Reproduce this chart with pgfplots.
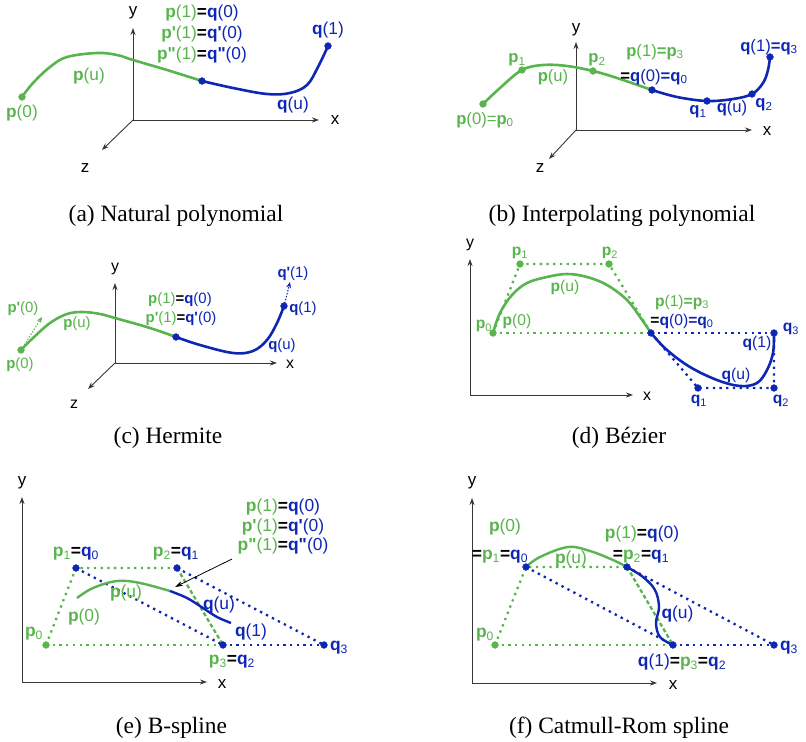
\documentclass[border=0pt]{standalone}
\usepackage{pgfplots}
\pgfplotsset{compat=1.18}
\usetikzlibrary{arrows.meta}
\usepackage{fontspec}
\setmainfont{Liberation Serif}
\newfontfamily\lab{Liberation Sans}
\definecolor{cg}{RGB}{88,180,76}
\definecolor{cb}{RGB}{14,38,180}
\definecolor{axc}{RGB}{55,55,55}
\newcommand\G[1]{\textcolor{cg}{#1}}
\newcommand\Bl[1]{\textcolor{cb}{#1}}
\newcommand\bp{\textbf{p}}
\newcommand\bq{\textbf{q}}
\newcommand\eq{\textbf{=}}
\newcommand\s[1]{\textsubscript{#1}}
\newcommand\pr{\symbol{"27}}
\newcommand\dpr{\symbol{"22}}
\tikzset{L/.style={inner sep=0pt, font=\lab\fontsize{#1}{#1}\selectfont},
  C/.style={inner sep=0pt, anchor=base, font=\fontsize{23.5}{24}\selectfont}}
\pgfplotsset{
  axl/.style={axc, line width=0.9bp, -{Stealth[length=7bp,width=5bp]}},
  gcur/.style={cg, line width=2.6bp, smooth, tension=0.6},
  bcur/.style={cb, line width=2.6bp, smooth, tension=0.6},
  gdot/.style={cg, line width=2.3bp, dash pattern=on 2.3bp off 4.4bp},
  bdot/.style={cb, line width=2.3bp, dash pattern=on 2.3bp off 4.4bp},
  gdash/.style={cg, line width=2.3bp, dash pattern=on 4bp off 2.5bp},
  gm/.style={only marks, mark=*, mark size=3.4bp, cg, mark options={fill=cg, draw=cg}},
  bm/.style={only marks, mark=*, mark size=3.4bp, cb, mark options={fill=cb, draw=cb}},
  darr/.style={line width=1.1bp, dash pattern=on 1.4bp off 1.6bp, -{Stealth[length=6bp,width=5bp]}},
}
\begin{document}
\begin{tikzpicture}
\begin{axis}[width=806bp, height=742bp, scale only axis, xmin=0, xmax=806, ymin=0, ymax=742,
  y dir=reverse, axis lines=none, clip=false]
\addplot[draw=none, forget plot] coordinates {(0,0) (806,742)};
% ================= (a)
\addplot[axl] coordinates {(133,120) (133,28)};
\addplot[axl] coordinates {(133,120) (319,120)};
\addplot[axl] coordinates {(133,120) (102,150)};
\addplot[gcur] coordinates {(22,97) (33,83) (50,67) (67,57) (97,53) (117,55) (133,60) (167,70) (202,81)};
\addplot[bcur] coordinates {(202,81) (233,88) (267,94) (290,93) (307,85) (318,67) (328,46)};
\addplot[gm] coordinates {(22,97)};
\addplot[bm] coordinates {(202,81) (328,46)};
\node[L=17] at (axis cs:133,13) {y};
\node[L=17] at (axis cs:335,120) {x};
\node[L=17] at (axis cs:85,168) {z};
\node[L=17.3] at (axis cs:22,113) {\G{\bp(0)}};
\node[L=17.3] at (axis cs:89,76) {\G{\bp(u)}};
\node[L=17.3] at (axis cs:293,105) {\Bl{\bq(u)}};
\node[L=17.3] at (axis cs:328,30) {\Bl{\bq(1)}};
\node[L=17.3] at (axis cs:202,13) {\G{\bp(1)}\eq\Bl{\bq(0)}};
\node[L=17.3] at (axis cs:202,34) {\G{\textbf{p\pr}(1)}\eq\Bl{\textbf{q\pr}(0)}};
\node[L=17.3] at (axis cs:202,55) {\G{\textbf{p\dpr}(1)}\eq\Bl{\textbf{q\dpr}(0)}};
\node[C] at (axis cs:176,221) {(a) Natural polynomial};
% ================= (b)
\addplot[axl] coordinates {(576,130) (576,42)};
\addplot[axl] coordinates {(576,130) (752,130)};
\addplot[axl] coordinates {(576,130) (549,159)};
\addplot[gcur] coordinates {(483,104) (500,88) (522,70) (543,65) (567,66) (593,71) (617,78) (652,90)};
\addplot[bcur] coordinates {(652,90) (677,97) (707,101) (733,99) (752,94) (763,83) (768,70) (770,57)};
\addplot[gm] coordinates {(483,104) (522,70) (593,71)};
\addplot[bm] coordinates {(652,90) (707,101) (752,94) (770,57)};
\node[L=17] at (axis cs:576,30) {y};
\node[L=17] at (axis cs:767,131) {x};
\node[L=17] at (axis cs:540,168) {z};
\node[L=16.7] at (axis cs:485,120) {\G{\bp(0)=\bp\s{0}}};
\node[L=16.7] at (axis cs:517,60) {\G{\bp\s{1}}};
\node[L=16.7] at (axis cs:553,77) {\G{\bp(u)}};
\node[L=16.7] at (axis cs:597,60) {\G{\bp\s{2}}};
\node[L=16.7] at (axis cs:655,52) {\G{\bp(1)\eq\bp\s{3}}};
\node[L=16.7] at (axis cs:654,77) {\eq\Bl{\bq(0)\eq\bq\s{0}}};
\node[L=16.7] at (axis cs:698,112) {\Bl{\bq\s{1}}};
\node[L=16.7] at (axis cs:732,108) {\Bl{\bq(u)}};
\node[L=16.7] at (axis cs:764,105) {\Bl{\bq\s{2}}};
\node[L=16.7] at (axis cs:769,47) {\Bl{\bq(1)\eq\bq\s{3}}};
\node[C] at (axis cs:622,221) {(b) Interpolating polynomial};
% ================= (c)
\addplot[axl] coordinates {(115,363) (115,283)};
\addplot[axl] coordinates {(115,363) (277,363)};
\addplot[axl] coordinates {(115,363) (88,389)};
\addplot[cg, darr] coordinates {(21,350) (42,317)};
\addplot[cb, darr] coordinates {(284,306) (290,282)};
\addplot[gcur] coordinates {(21,350) (33,338) (50,323) (67,314) (83,312) (100,314) (115,318) (150,328) (176,337)};
\addplot[bcur] coordinates {(176,337) (200,345) (233,353) (253,351) (267,340) (277,323) (284,306)};
\addplot[gm] coordinates {(21,350)};
\addplot[bm] coordinates {(176,337) (284,306)};
\node[L=16] at (axis cs:115,269) {y};
\node[L=16] at (axis cs:290,364) {x};
\node[L=16] at (axis cs:74,404) {z};
\node[L=15] at (axis cs:23,309) {\G{\textbf{p\pr}(0)}};
\node[L=15] at (axis cs:20,365) {\G{\bp(0)}};
\node[L=15] at (axis cs:77,324) {\G{\bp(u)}};
\node[L=15] at (axis cs:180,300) {\G{\bp(1)}\eq\Bl{\bq(0)}};
\node[L=15] at (axis cs:181,319) {\G{\textbf{p\pr}(1)}\eq\Bl{\textbf{q\pr}(0)}};
\node[L=15] at (axis cs:282,346) {\Bl{\bq(u)}};
\node[L=15] at (axis cs:303,309) {\Bl{\bq(1)}};
\node[L=15] at (axis cs:293,274) {\Bl{\textbf{q\pr}(1)}};
\node[C] at (axis cs:168,443) {(c) Hermite};
% ================= (d)
\addplot[axl] coordinates {(470,395) (470,259)};
\addplot[axl] coordinates {(470,395) (633,395)};
\addplot[gdot] coordinates {(493,333) (520,264) (609,264) (651,333)};
\addplot[gdot] coordinates {(493,333) (651,333)};
\addplot[bdot] coordinates {(651,333) (698,388) (774,388) (774,333)};
\addplot[bdot] coordinates {(651,333) (774,333)};
\addplot[gcur] coordinates {(493,333) (500,313) (512,295) (527,283) (547,277) (567,274) (587,277) (607,285) (627,300) (640,317) (651,333)};
\addplot[bcur] coordinates {(651,333) (667,350) (690,367) (717,380) (740,386) (757,383) (767,370) (773,353) (774,335)};
\addplot[gm] coordinates {(493,333) (520,264) (609,264)};
\addplot[bm] coordinates {(651,333) (698,388) (774,388) (774,333)};
\node[L=16] at (axis cs:470,245) {y};
\node[L=16] at (axis cs:647,396) {x};
\node[L=15.7] at (axis cs:484,326) {\G{\bp\s{0}}};
\node[L=15.7] at (axis cs:517,321) {\G{\bp(0)}};
\node[L=15.7] at (axis cs:520,253) {\G{\bp\s{1}}};
\node[L=15.7] at (axis cs:610,253) {\G{\bp\s{2}}};
\node[L=15.7] at (axis cs:565,287) {\G{\bp(u)}};
\node[L=15.7] at (axis cs:682,302) {\G{\bp(1)\eq\bp\s{3}}};
\node[L=15.7] at (axis cs:682,321) {\eq\Bl{\bq(0)\eq\bq\s{0}}};
\node[L=15.7] at (axis cs:791,329) {\Bl{\bq\s{3}}};
\node[L=15.7] at (axis cs:757,343) {\Bl{\bq(1)}};
\node[L=15.7] at (axis cs:736,375) {\Bl{\bq(u)}};
\node[L=15.7] at (axis cs:699,401) {\Bl{\bq\s{1}}};
\node[L=15.7] at (axis cs:781,401) {\Bl{\bq\s{2}}};
\node[C] at (axis cs:619,443) {(d) B\'ezier};
% ================= (e)
\addplot[axl] coordinates {(22,682) (22,497)};
\addplot[axl] coordinates {(22,682) (207,682)};
\addplot[gdot] coordinates {(46,645) (76,568) (177,568)};
\addplot[gdot] coordinates {(46,645) (223,645)};
\addplot[bdot] coordinates {(76,568) (223,645)};
\addplot[bdot] coordinates {(177,568) (324,645)};
\addplot[bdot] coordinates {(223,645) (324,645)};
\addplot[gdash] coordinates {(177,568) (223,645)};
\addplot[gcur, line width=2.4bp] coordinates {(77,598) (93,588) (117,581) (140,583) (170,591)};
\addplot[bcur, line width=2.4bp] coordinates {(170,591) (187,598) (203,608) (217,617) (231,623)};
\addplot[black, line width=0.8bp, -{Stealth[length=8bp,width=5bp]}] coordinates {(232,559) (175,587)};
\addplot[gm] coordinates {(46,645)};
\addplot[bm] coordinates {(76,568) (177,568) (223,645) (324,645)};
\node[L=17] at (axis cs:22,483) {y};
\node[L=17] at (axis cs:222,684) {x};
\node[L=17.5] at (axis cs:283,507) {\G{\bp(1)}\eq\Bl{\bq(0)}};
\node[L=17.5] at (axis cs:283,527) {\G{\textbf{p\pr}(1)}\eq\Bl{\textbf{q\pr}(0)}};
\node[L=17.5] at (axis cs:283,546) {\G{\textbf{p\dpr}(1)}\eq\Bl{\textbf{q\dpr}(0)}};
\node[L=17.5] at (axis cs:76,554) {\G{\bp\s{1}}\eq\Bl{\bq\s{0}}};
\node[L=17.5] at (axis cs:176,554) {\G{\bp\s{2}}\eq\Bl{\bq\s{1}}};
\node[L=17.5] at (axis cs:126,593) {\G{\bp(u)}};
\node[L=17.5] at (axis cs:219,605) {\Bl{\bq(u)}};
\node[L=17.5] at (axis cs:84,617) {\G{\bp(0)}};
\node[L=17.5] at (axis cs:251,632) {\Bl{\bq(1)}};
\node[L=17.5] at (axis cs:34,634) {\G{\bp\s{0}}};
\node[L=17.5] at (axis cs:339,648) {\Bl{\bq\s{3}}};
\node[L=17.5] at (axis cs:232,662) {\G{\bp\s{3}}\eq\Bl{\bq\s{2}}};
\node[C] at (axis cs:171.5,733) {(e) B-spline};
% ================= (f)
\addplot[axl] coordinates {(472,683) (472,498)};
\addplot[axl] coordinates {(472,683) (657,683)};
\addplot[gdot] coordinates {(495,645) (526,567) (627,567)};
\addplot[gdot] coordinates {(495,645) (673,645)};
\addplot[bdot] coordinates {(526,567) (673,645)};
\addplot[bdot] coordinates {(627,567) (774,645)};
\addplot[bdot] coordinates {(673,645) (774,645)};
\addplot[gdash] coordinates {(627,567) (673,645)};
\addplot[gcur, line width=2.4bp] coordinates {(526,567) (540,557) (568,547) (590,551) (613,560) (627,567)};
\addplot[bcur, line width=2.4bp] coordinates {(627,567) (643,577) (655,590) (659,607) (656,623) (660,637) (673,645)};
\addplot[gm] coordinates {(495,645)};
\addplot[bm] coordinates {(526,567) (627,567) (673,645) (774,645)};
\node[L=17] at (axis cs:472,483) {y};
\node[L=17] at (axis cs:673,685) {x};
\node[L=17.5] at (axis cs:505,527) {\G{\bp(0)}};
\node[L=17.5] at (axis cs:500,557) {\eq\G{\bp\s{1}}\eq\Bl{\bq\s{0}}};
\node[L=17.5] at (axis cs:571,559) {\G{\bp(u)}};
\node[L=17.5] at (axis cs:642,534) {\G{\bp(1)}\eq\Bl{\bq(0)}};
\node[L=17.5] at (axis cs:641,557) {\eq\G{\bp\s{2}}\eq\Bl{\bq\s{1}}};
\node[L=17.5] at (axis cs:677.5,614) {\Bl{\bq(u)}};
\node[L=17.5] at (axis cs:682,662) {\Bl{\bq(1)}\eq\G{\bp\s{3}}\eq\Bl{\bq\s{2}}};
\node[L=17.5] at (axis cs:485,635) {\G{\bp\s{0}}};
\node[L=17.5] at (axis cs:789,648) {\Bl{\bq\s{3}}};
\node[C] at (axis cs:619,733) {(f) Catmull-Rom spline};
\end{axis}
\end{tikzpicture}
\end{document}
